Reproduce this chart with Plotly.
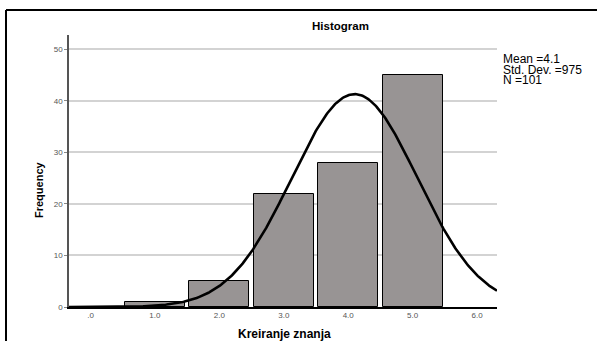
import numpy as np
import plotly.graph_objects as go

# Data
categories = [1.0, 2.0, 3.0, 4.0, 5.0]
frequencies = [1, 5, 22, 28, 45]
tick_vals = [0, 1, 2, 3, 4, 5, 6]
tick_labels = [".0", "1.0", "2.0", "3.0", "4.0", "5.0", "6.0"]
y_ticks = [0, 10, 20, 30, 40, 50]
mean_val = 4.099
sd_val = 0.975
n_val = 101
stats_lines = ["Mean =4.1", "Std. Dev. =975", "N =101"]

x_min, x_max = -0.334, 6.31
y_min, y_max = 0, 52.8

xs = np.linspace(x_min, x_max, 400)
ys = n_val * 1.0 / (sd_val * np.sqrt(2 * np.pi)) * np.exp(-0.5 * ((xs - mean_val) / sd_val) ** 2)

fig = go.Figure()
fig.add_trace(go.Bar(
    x=categories, y=frequencies, width=0.935,
    marker=dict(color="#989494", line=dict(color="black", width=1)),
    hoverinfo="skip",
))
fig.add_trace(go.Scatter(
    x=xs, y=ys, mode="lines",
    line=dict(color="black", width=2.6), hoverinfo="skip",
))

W, H = 597, 341
L, R, T, B = 69, 100, 35, 34
pw, ph = W - L - R, H - T - B

def px_x(p):
    return (p - L) / pw

def px_y(p):
    return (H - B - p) / ph

fig.update_layout(
    width=W, height=H,
    margin=dict(l=L, r=R, t=T, b=B, pad=0),
    paper_bgcolor="white", plot_bgcolor="white",
    showlegend=False,
    font=dict(family="Liberation Sans, Arial, sans-serif", color="black"),
    xaxis=dict(
        range=[x_min, x_max], tickvals=tick_vals, ticktext=tick_labels,
        showgrid=False, zeroline=False, showline=True, linecolor="black", linewidth=1.5,
        ticks="", tickfont=dict(size=8, color="#555555"), fixedrange=True,
    ),
    yaxis=dict(
        range=[y_min, y_max], tickvals=y_ticks,
        showgrid=True, gridcolor="#d3d3d3", gridwidth=1.5,
        zeroline=False, showline=True, linecolor="#555555", linewidth=1.5,
        ticks="outside", ticklen=3, tickcolor="#888888",
        tickfont=dict(size=8, color="#555555"), fixedrange=True,
    ),
    bargap=0,
)

# Frame (top and left edges)
fig.add_shape(type="line", xref="paper", yref="paper",
              x0=px_x(6), x1=px_x(W + 10), y0=px_y(10), y1=px_y(10),
              line=dict(color="black", width=2))
fig.add_shape(type="line", xref="paper", yref="paper",
              x0=px_x(6), x1=px_x(6), y0=px_y(10), y1=px_y(H + 10),
              line=dict(color="black", width=2))

# Title
fig.add_annotation(text="<b>Histogram</b>", xref="paper", yref="paper",
                   x=px_x(340), y=px_y(26), showarrow=False,
                   xanchor="center", yanchor="middle",
                   font=dict(size=11.5, color="black"))
# Axis titles
fig.add_annotation(text="<b>Kreiranje znanja</b>", xref="paper", yref="paper",
                   x=px_x(284), y=px_y(334), showarrow=False,
                   xanchor="center", yanchor="middle",
                   font=dict(size=12, color="black"))
fig.add_annotation(text="<b>Frequency</b>", xref="paper", yref="paper",
                   x=px_x(39), y=px_y(190), showarrow=False, textangle=-90,
                   xanchor="center", yanchor="middle",
                   font=dict(size=11, color="black"))
# Stats
for i, s in enumerate(stats_lines):
    fig.add_annotation(text=s, xref="paper", yref="paper",
                       x=px_x(501), y=px_y(59 + i * 10.7), showarrow=False,
                       xanchor="left", yanchor="middle",
                       font=dict(size=12, color="black"))

fig.write_html("out.html")
